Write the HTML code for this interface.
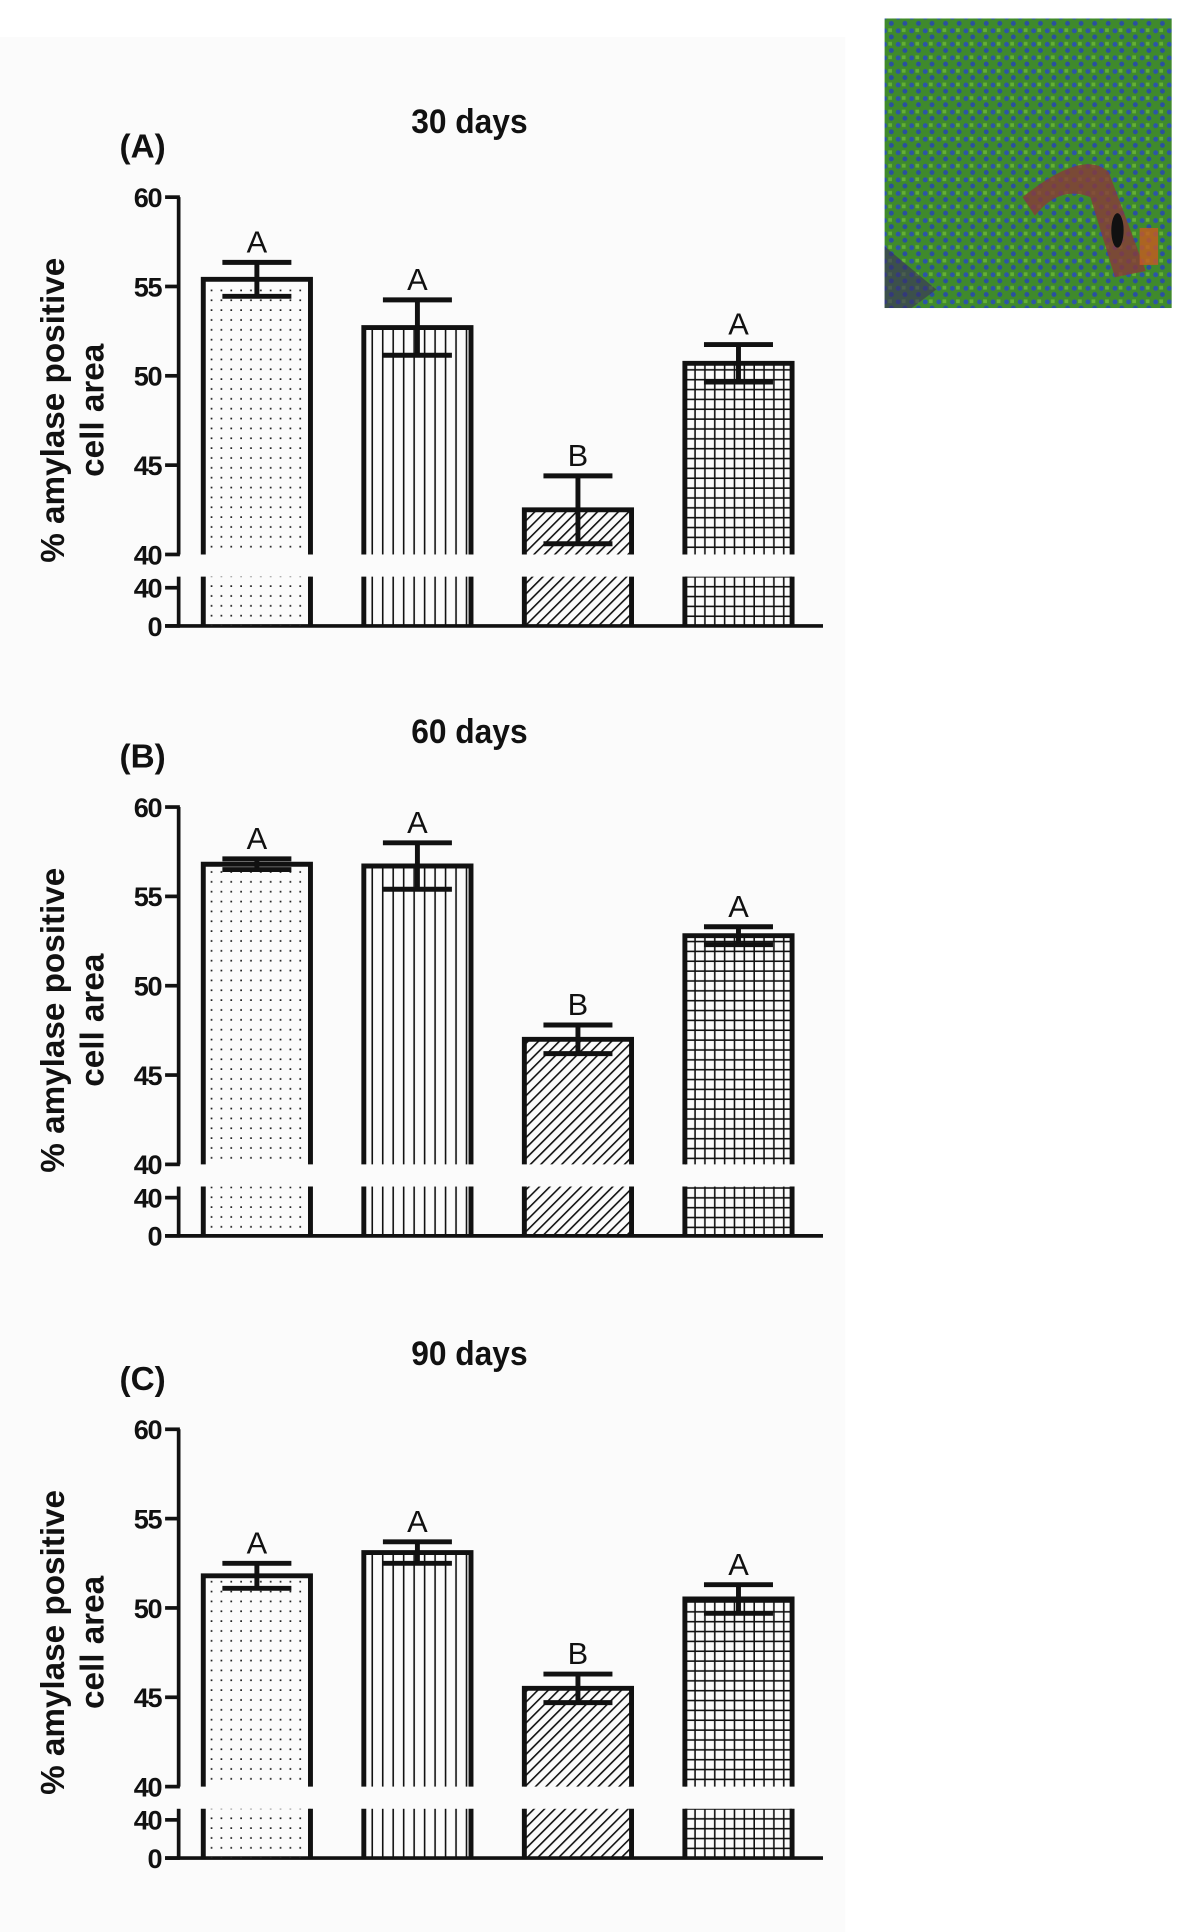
<!DOCTYPE html>
<html><head><meta charset="utf-8"><style>
html,body{margin:0;padding:0;background:#fff;}
svg{display:block;}
text{font-family:"Liberation Sans",sans-serif;}
</style></head><body>
<svg id="fig" width="1200" height="1932" viewBox="0 0 974 1568" preserveAspectRatio="none" xmlns="http://www.w3.org/2000/svg">
<defs>
<pattern id="pDots" width="8" height="8" patternUnits="userSpaceOnUse"><rect x="3" y="3" width="1.4" height="1.4" fill="#222"/></pattern>
<pattern id="pVert" width="8.5" height="8" patternUnits="userSpaceOnUse"><rect x="4" y="0" width="1.3" height="8" fill="#111"/></pattern>
<pattern id="pDiag" width="6" height="6" patternUnits="userSpaceOnUse" patternTransform="rotate(45)"><rect x="0" y="0" width="1.3" height="6" fill="#111"/></pattern>
<pattern id="pGrid" width="8" height="8" patternUnits="userSpaceOnUse"><rect x="3.5" y="0" width="1.3" height="8" fill="#111"/><rect x="0" y="3.5" width="8" height="1.3" fill="#111"/></pattern>
<pattern id="pTissue" width="11" height="11" patternUnits="userSpaceOnUse"><rect width="11" height="11" fill="#3f8a2c"/><circle cx="3" cy="3" r="2" fill="#2d55a8"/><circle cx="8.5" cy="8" r="2" fill="#2a50a0"/><rect x="6" y="1" width="3" height="3" fill="#64b034"/></pattern>
</defs>
<rect x="0" y="30" width="686" height="1538" fill="#fbfbfb"/>
<g>
<rect x="718" y="15" width="233" height="235" fill="url(#pTissue)"/>
<path d="M830 160 Q880 120 900 140 L930 220 L905 225 L885 160 Q860 150 840 175 Z" fill="#8a3a3a" opacity="0.8"/>
<ellipse cx="907" cy="187" rx="5" ry="14" fill="#111"/>
<rect x="925" y="185" width="15" height="30" fill="#c85a20" opacity="0.8"/>
<path d="M718 200 L760 235 L740 250 L718 250 Z" fill="#3a2a60" opacity="0.6"/>
</g>
<g id="charts"></g>
</svg>
<script>
const categories = ["Group 1","Group 2","Group 3","Group 4"];
const panelTitles = ["30 days","60 days","90 days"];
const panelLabels = ["(A)","(B)","(C)"];
const means30 = [55.4, 52.7, 42.5, 50.7];
const errs30 = [0.95, 1.55, 1.9, 1.05];
const letters30 = ["A","A","B","A"];
const means60 = [56.8, 56.7, 47.0, 52.8];
const errs60 = [0.3, 1.3, 0.8, 0.5];
const letters60 = ["A","A","B","A"];
const means90 = [51.8, 53.1, 45.5, 50.5];
const errs90 = [0.7, 0.6, 0.8, 0.8];
const letters90 = ["A","A","B","A"];
const yTicks = [40, 45, 50, 55, 60];
const lowerTicks = [0, 40];

const NS = "http://www.w3.org/2000/svg";
const root = document.getElementById("charts");
const patterns = ["url(#pDots)","url(#pVert)","url(#pDiag)","url(#pGrid)"];
const panels = [[means30, errs30, letters30],[means60, errs60, letters60],[means90, errs90, letters90]];
const offsets = [0, 495, 1000];
function mk(tag, attrs, parent){const e=document.createElementNS(NS,tag);for(const k in attrs)e.setAttribute(k,attrs[k]);parent.appendChild(e);return e;}

panels.forEach((p, pi) => {
  const [means, errs, letters] = p;
  const off = offsets[pi];
  const g = mk("g", {}, root);
  
  
  const yMain = v => off + 450 - (v - 40) * 14.5;
  const yLow = v => off + 508 - v / 40 * 31;
  const xLeft = i => 165 + i * 130.3;
  const bw = 87;
  const t = mk("text", {x:381, y:off+108, "text-anchor":"middle", "font-size":"28", "font-weight":"bold", fill:"#111", transform:`translate(381,0) scale(0.92,1) translate(-381,0)`}, g);
  t.textContent = panelTitles[pi];
  
  
  const l = mk("text", {x:97, y:off+128, "font-size":"27", "font-weight":"bold", fill:"#111"}, g);
  l.textContent = panelLabels[pi];
  
  
  const yt = mk("text", {transform:`translate(52,${off+333}) rotate(-90)`, "text-anchor":"middle", "font-size":"27", "font-weight":"bold", fill:"#111"}, g);
  yt.textContent = "% amylase positive";
  
  
  const yt2 = mk("text", {transform:`translate(84,${off+333}) rotate(-90)`, "text-anchor":"middle", "font-size":"27", "font-weight":"bold", fill:"#111"}, g);
  yt2.textContent = "cell area";
  
  
  const ax = mk("line", {x1:145, y1:yMain(60), x2:145, y2:yMain(40), stroke:"#111", "stroke-width":3}, g);
  
  
  yTicks.forEach(v => {
    mk("line", {x1:134, y1:yMain(v), x2:146, y2:yMain(v), stroke:"#111", "stroke-width":3}, g);
    const tl = mk("text", {x:131, y:yMain(v)+8, "text-anchor":"end", "font-size":"22", "font-weight":"bold", fill:"#111", "letter-spacing":"-1"}, g);
    tl.textContent = v;
    
    
  });
  mk("line", {x1:145, y1:yLow(40)-9, x2:145, y2:yLow(0), stroke:"#111", "stroke-width":3}, g);
  lowerTicks.forEach(v => {
    mk("line", {x1:134, y1:yLow(v), x2:146, y2:yLow(v), stroke:"#111", "stroke-width":3}, g);
    const tl = mk("text", {x:131, y:yLow(v)+8, "text-anchor":"end", "font-size":"22", "font-weight":"bold", fill:"#111", "letter-spacing":"-1"}, g);
    tl.textContent = v;
    
    
  });
  const bl = mk("line", {x1:134, y1:yLow(0), x2:668, y2:yLow(0), stroke:"#111", "stroke-width":3}, g);
  
  
  means.forEach((m, i) => {
    const x = xLeft(i);
    const bg = mk("g", {}, g);
    
    
    const top = yMain(m), bot = yMain(40);
    mk("rect", {x:x, y:top, width:bw, height:bot-top, fill:patterns[i]}, bg);
    mk("path", {d:`M${x} ${bot} V${top} H${x+bw} V${bot}`, fill:"none", stroke:"#111", "stroke-width":4}, bg);
    const lt = yLow(40)-9, lb = yLow(0);
    mk("rect", {x:x, y:lt, width:bw, height:lb-lt, fill:patterns[i]}, bg);
    mk("line", {x1:x, y1:lt, x2:x, y2:lb, stroke:"#111", "stroke-width":4}, bg);
    mk("line", {x1:x+bw, y1:lt, x2:x+bw, y2:lb, stroke:"#111", "stroke-width":4}, bg);
    const cx = x + bw/2;
    const eg = mk("g", {stroke:"#111", "stroke-width":4}, g);
    
    
    mk("line", {x1:cx, y1:yMain(m+errs[i]), x2:cx, y2:yMain(m-errs[i])}, eg);
    mk("line", {x1:cx-28, y1:yMain(m+errs[i]), x2:cx+28, y2:yMain(m+errs[i])}, eg);
    mk("line", {x1:cx-28, y1:yMain(m-errs[i]), x2:cx+28, y2:yMain(m-errs[i])}, eg);
    const lt2 = mk("text", {x:cx, y:yMain(m+errs[i])-8, "text-anchor":"middle", "font-size":"25", fill:"#111"}, g);
    lt2.textContent = letters[i];
    
    
  });
});
</script>
</body></html>
